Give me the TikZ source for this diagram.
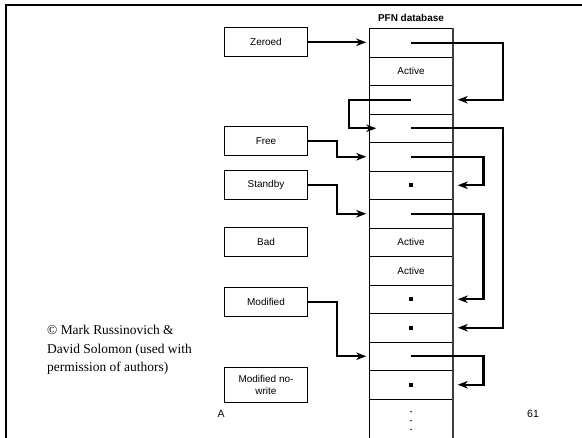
\documentclass[tikz,border=0pt]{standalone}
\usepackage{fontspec}
\newfontfamily\arialf{Liberation Sans}
\newfontfamily\timesf{Liberation Serif}
\usetikzlibrary{arrows.meta}
\begin{document}
\begin{tikzpicture}[x=1bp,y=-1bp,
  lbl/.style={draw, line width=0.9bp, minimum width=83.4bp, minimum height=28.7bp, inner sep=0pt, font=\arialf\fontsize{10}{12.6}\selectfont, align=center},
  cell/.style={draw, line width=0.9bp, minimum width=83.4bp, minimum height=28.5bp, inner sep=0pt, font=\arialf\fontsize{10}{12}\selectfont},
  conn/.style={line width=2.4bp, -{Stealth[length=10bp,width=7.5bp,inset=3bp]}},
  sq/.style={fill, minimum size=4.4bp, inner sep=0pt},
  tdot/.style={fill, circle, minimum size=1.6bp, inner sep=0pt},
  frame/.style={line width=2.3bp},
  cpy/.style={anchor=base west, inner sep=0pt, font=\timesf\fontsize{13.5}{18}\selectfont},
  smalltxt/.style={inner sep=0pt, font=\arialf\fontsize{10.5}{12}\selectfont}]
\useasboundingbox (0,0) rectangle (582,438);
\clip (0,0) rectangle (582,438);
% frame
\draw[frame] (5,5.3) -- (582,5.3);
\draw[frame] (6.2,4.2) -- (6.2,438);
% title
\node[inner sep=0pt, font=\arialf\bfseries\fontsize{10}{12}\selectfont] (title) at (411,18.3) {PFN database};
% cells
\node[cell] (r0) at (411,42.75) {};
\node[cell] (r1) at (411,71.25) {Active};
\node[cell] (r2) at (411,99.75) {};
\node[cell] (r3) at (411,128.25) {};
\node[cell] (r4) at (411,156.75) {};
\node[cell] (r5) at (411,185.25) {};
\node[cell] (r6) at (411,213.75) {};
\node[cell] (r7) at (411,242.25) {Active};
\node[cell] (r8) at (411,270.75) {Active};
\node[cell] (r9) at (411,299.25) {};
\node[cell] (r10) at (411,327.75) {};
\node[cell] (r11) at (411,356.25) {};
\node[cell] (r12) at (411,384.75) {};
\node[cell, minimum height=48bp] (r13) at (411,423) {};
\draw[line width=1.6bp, black!75] (r0.north east) -- (r13.south east);
% squares
\node[sq] (s5) at (r5) {};
\node[sq] (s9) at (r9) {};
\node[sq] (s10) at (r10) {};
\node[sq] (s12) at (r12) {};
% dots
\node[tdot] (d1) at (411,411.7) {};
\node[tdot] (d2) at (411,420.7) {};
\node[tdot] (d3) at (411,429.3) {};
% list heads
\node[lbl] (zeroed) at (266,42.3) {Zeroed};
\node[lbl] (free) at (266,141.3) {Free};
\node[lbl] (standby) at (266,185.3) {Standby};
\node[lbl] (bad) at (266,242) {Bad};
\node[lbl] (modified) at (266,301.7) {Modified};
\node[lbl, minimum height=34.6bp] (mnw) at (266,385) {Modified no-\\write};
% connectors from list heads
\draw[conn] (zeroed.east) -- ([xshift=-2.6bp]r0.west |- zeroed.east);
\draw[conn] (free.east) -- ++(29,0) |- ([xshift=-2.6bp]r4.west);
\draw[conn] (standby.east) -- ++(29,0) |- ([xshift=-2.6bp]r6.west);
\draw[conn] (modified.east) -- ++(29,0) |- ([xshift=-2.6bp]r11.west);
% links between entries
\draw[conn] (r0.center) -- ++(91.7,0) |- ([xshift=4.6bp]r2.east);
\draw[conn] (r2.center) -- ++(-62,0) |- ([xshift=7.4bp]r3.west);
\draw[conn] (r3.center) -- ++(91.7,0) |- ([xshift=4.6bp]r10.east);
\draw[conn] (r4.center) -- ++(72.3,0) |- ([xshift=4.6bp]r5.east);
\draw[conn] (r6.center) -- ++(72.3,0) |- ([xshift=4.6bp]r9.east);
\draw[conn] (r11.center) -- ++(72.3,0) |- ([xshift=4.6bp]r12.east);
% copyright
\node[cpy] (cp1) at (47,334.5) {\textcopyright{} Mark Russinovich \&};
\node[cpy] (cp2) at (47,353) {David Solomon (used with};
\node[cpy] (cp3) at (47,371.5) {permission of authors)};
% footer
\node[smalltxt] (fa) at (221,413.5) {A};
\node[smalltxt] (fpg) at (533,414) {61};
\end{tikzpicture}
\end{document}
